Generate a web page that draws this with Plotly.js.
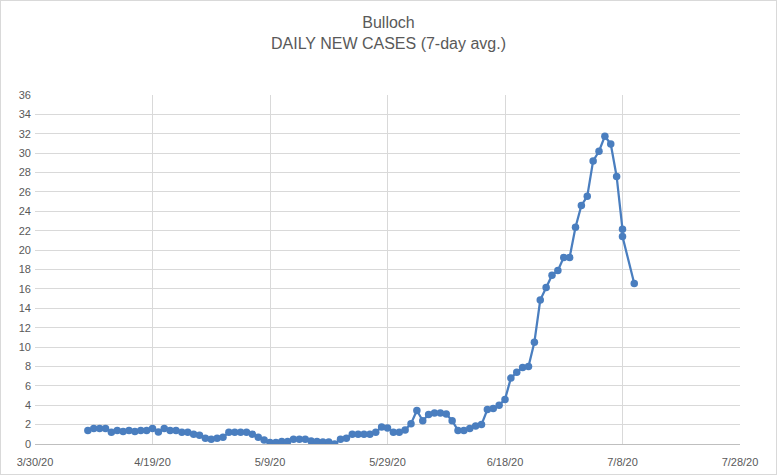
<!DOCTYPE html>
<html>
<head>
<meta charset="utf-8">
<script src="https://cdn.plot.ly/plotly-3.0.1.min.js"></script>
<style>
  html, body { margin: 0; padding: 0; background: #fff; }
  #wrap { position: relative; width: 777px; height: 475px; }
  #chart { width: 777px; height: 475px; }
  #frame { position: absolute; left: 0; top: 0; width: 775px; height: 473px; border: 1px solid #d9d9d9; pointer-events: none; }
</style>
</head>
<body>
<div id="wrap"><div id="chart"></div><div id="frame"></div></div>
<script>
const dates = [
  "2020-04-08","2020-04-09","2020-04-10","2020-04-11","2020-04-12","2020-04-13","2020-04-14","2020-04-15","2020-04-16","2020-04-17",
  "2020-04-18","2020-04-19","2020-04-20","2020-04-21","2020-04-22","2020-04-23","2020-04-24","2020-04-25","2020-04-26","2020-04-27",
  "2020-04-28","2020-04-29","2020-04-30","2020-05-01","2020-05-02","2020-05-03","2020-05-04","2020-05-05","2020-05-06","2020-05-07",
  "2020-05-08","2020-05-09","2020-05-10","2020-05-11","2020-05-12","2020-05-13","2020-05-14","2020-05-15","2020-05-16","2020-05-17",
  "2020-05-18","2020-05-19","2020-05-20","2020-05-21","2020-05-22","2020-05-23","2020-05-24","2020-05-25","2020-05-26","2020-05-27",
  "2020-05-28","2020-05-29","2020-05-30","2020-05-31","2020-06-01","2020-06-02","2020-06-03","2020-06-04","2020-06-05","2020-06-06",
  "2020-06-07","2020-06-08","2020-06-09","2020-06-10","2020-06-11","2020-06-12","2020-06-13","2020-06-14","2020-06-15","2020-06-16",
  "2020-06-17","2020-06-18","2020-06-19","2020-06-20","2020-06-21","2020-06-22","2020-06-23","2020-06-24","2020-06-25","2020-06-26",
  "2020-06-27","2020-06-28","2020-06-29","2020-06-30","2020-07-01","2020-07-02","2020-07-03","2020-07-04","2020-07-05","2020-07-06",
  "2020-07-07","2020-07-08","2020-07-08","2020-07-10"
];
const newCasesAvg = [
  1.4, 1.6, 1.6, 1.6, 1.2, 1.4, 1.3, 1.4, 1.3, 1.4,
  1.4, 1.6, 1.25, 1.6, 1.4, 1.4, 1.2, 1.2, 1.0, 0.9,
  0.6, 0.5, 0.6, 0.7, 1.2, 1.2, 1.2, 1.2, 1.0, 0.7,
  0.4, 0.15, 0.15, 0.25, 0.25, 0.5, 0.5, 0.5, 0.3, 0.25,
  0.2, 0.2, 0.0, 0.5, 0.6, 1.0, 1.0, 1.0, 1.0, 1.2,
  1.75, 1.65, 1.2, 1.2, 1.45, 2.1, 3.45, 2.4, 3.05, 3.2,
  3.2, 3.1, 2.4, 1.4, 1.4, 1.6, 1.85, 2.0, 3.55, 3.65,
  4.0, 4.6, 6.8, 7.4, 7.9, 8.0, 10.5, 14.85, 16.15, 17.4,
  17.9, 19.25, 19.25, 22.35, 24.6, 25.55, 29.2, 30.2, 31.75, 30.95,
  27.6, 22.15, 21.4, 16.55
];
const xRange = ["2020-03-30", "2020-07-28"];
const yRange = [0, 36];
const chartTitle = "Bulloch<br>DAILY NEW CASES (7-day avg.)";

const color = "#4A7EBF";
const trace = {
  x: dates,
  y: newCasesAvg,
  type: "scatter",
  mode: "lines+markers",
  line: { color: color, width: 2.25 },
  marker: { color: color, size: 7.5, symbol: "circle" },
  hoverinfo: "x+y"
};

const layout = {
  width: 777,
  height: 475,
  margin: { l: 35, r: 37, t: 95, b: 31 },
  paper_bgcolor: "#ffffff",
  plot_bgcolor: "#ffffff",
  showlegend: false,
  font: { family: "Liberation Sans, Arial, sans-serif", color: "#595959", size: 11 },
  title: {
    text: chartTitle,
    x: 0.5, xanchor: "center",
    y: 0.941, yanchor: "top",
    font: { family: "Liberation Sans, Arial, sans-serif", size: 16, color: "#595959" }
  },
  xaxis: {
    type: "date",
    range: xRange,
    tick0: "2020-03-30",
    dtick: 20 * 86400000,
    tickformat: "%-m/%-d/%y",
    showgrid: true,
    gridcolor: "#d9d9d9",
    gridwidth: 1,
    showline: true,
    linecolor: "#bfbfbf",
    linewidth: 1,
    zeroline: false,
    ticks: "",
    ticklen: 0,
    ticklabelstandoff: 8,
    tickfont: { size: 11, color: "#595959" },
    fixedrange: true
  },
  yaxis: {
    range: yRange,
    tick0: 0,
    dtick: 2,
    showgrid: true,
    gridcolor: "#d9d9d9",
    gridwidth: 1,
    showline: false,
    zeroline: false,
    ticks: "",
    ticklen: 0,
    ticklabelstandoff: 3,
    tickfont: { size: 11, color: "#595959" },
    fixedrange: true
  }
};

Plotly.newPlot("chart", [trace], layout, { displayModeBar: false, staticPlot: true });
</script>
</body>
</html>
